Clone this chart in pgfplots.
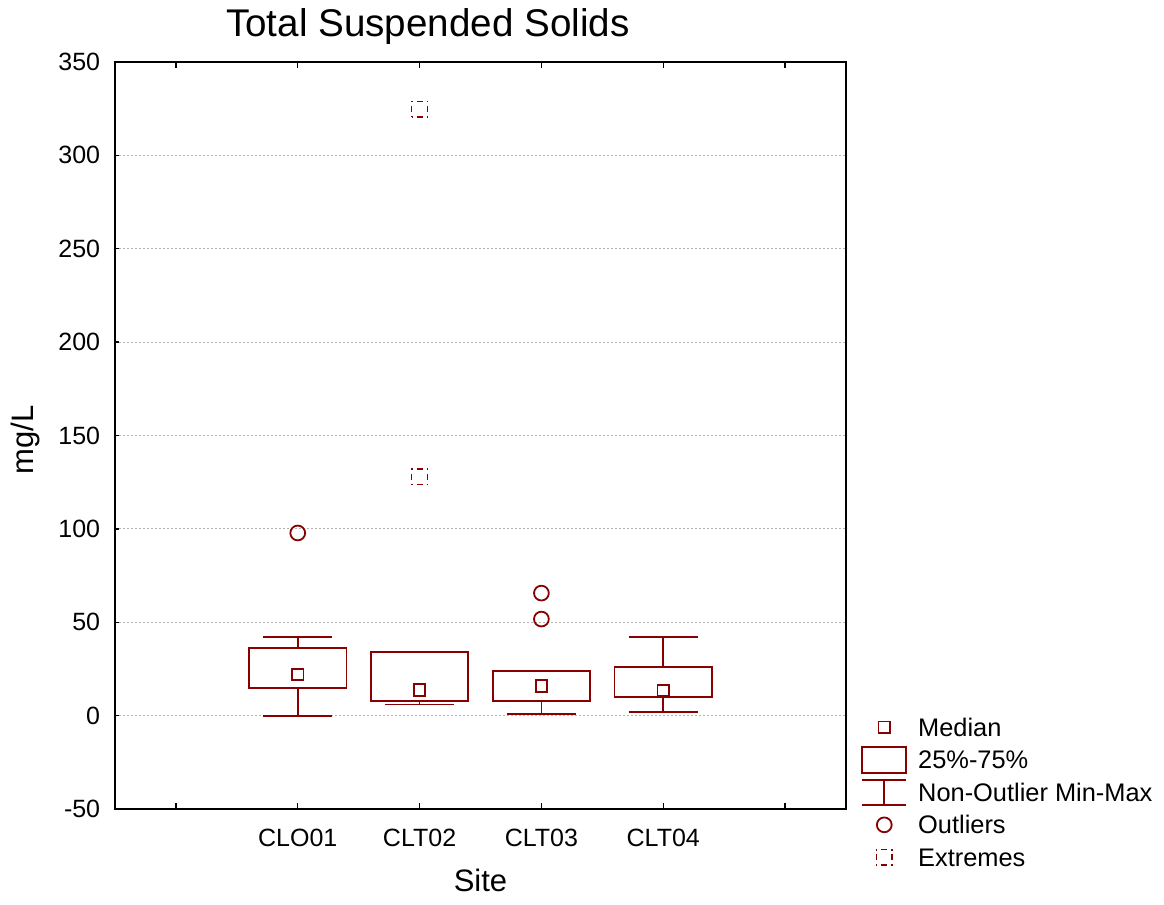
\documentclass[border=0pt]{standalone}
\usepackage{fontspec}
\setmainfont{Liberation Sans}
\usepackage{pgfplots}
\pgfplotsset{compat=1.18}
\usepgfplotslibrary{statistics}
\definecolor{boxred}{RGB}{136,0,0}

\pgfplotsset{
  tssbox/.style={
    forget plot, draw=boxred, line width=0.9pt,
    boxplot/draw direction=y,
    boxplot/box extend=0.8,
    boxplot/whisker extend=0.57,
    boxplot/draw/median/.code={%
      \draw[boxred, line width=0.9pt]
        (boxplot box cs:\pgfplotsboxplotvalue{median},0.5) ++(-2.9pt,-2.9pt)
        rectangle ++(5.8pt,5.8pt);
    },
  },
}

\begin{document}
\begin{tikzpicture}
\path[use as bounding box] (0,0) rectangle (582pt,452.5pt);
\begin{axis}[
  at={(57.5pt,48pt)}, anchor=south west,
  scale only axis, width=365.5pt, height=373.5pt,
  xmin=-0.5, xmax=5.5, ymin=-50, ymax=350,
  xtick={0,1,2,3,4,5},
  xticklabels={,CLO01,CLT02,CLT03,CLT04,},
  ytick distance=50,
  tick align=inside,
  ytick pos=left,
  xtick style={/pgfplots/major tick length=3pt, line width=0.7pt, black},
  ytick style={/pgfplots/major tick length=2pt, line width=0.7pt, black},
  axis line style={line width=1pt},
  ymajorgrids,
  major grid style={draw=gray!60, line width=0.5pt, dash pattern=on 1pt off 1pt},
  /pgf/number format/assume math mode=true,
  ticklabel style={font=\fontsize{12.5}{15}\selectfont},
  xticklabel style={yshift=-6.5pt},
  yticklabel style={xshift=-3.9pt},
  title={Total Suspended Solids},
  every axis title/.style={at={(0.428,1)}, anchor=base, yshift=12.5pt,
    font=\fontsize{19.3}{23}\selectfont},
  xlabel={Site},
  every axis x label/.style={at={(0.5,-0.096)}, anchor=center,
    font=\fontsize{15.5}{18}\selectfont},
  ylabel={mg/L},
  every axis y label/.style={at={(-0.122,0.494)}, anchor=center, rotate=90,
    font=\fontsize{15.5}{18}\selectfont},
  legend style={draw=none, fill=none, at={(1.0205,0.1316)}, anchor=north west,
    inner sep=0pt, font=\fontsize{12.7}{15}\selectfont,
    column sep=5.5pt, row sep=0pt,
    nodes={inner sep=0pt, text height=12.625pt, text depth=3.625pt}},
  legend cell align=left,
]

% boxes: lower whisker, lower quartile, median, upper quartile, upper whisker
\addplot[tssbox, boxplot prepared={draw position=1,
  lower whisker=0, lower quartile=15, median=22,
  upper quartile=36, upper whisker=42}] coordinates {};
\addplot[tssbox, boxplot prepared={draw position=2,
  lower whisker=6, lower quartile=8, median=13.7,
  upper quartile=34, upper whisker=34}] coordinates {};
\addplot[tssbox, boxplot prepared={draw position=3,
  lower whisker=0.7, lower quartile=8, median=15.9,
  upper quartile=24, upper whisker=24}] coordinates {};
\addplot[tssbox, boxplot prepared={draw position=4,
  lower whisker=2, lower quartile=10, median=13.5,
  upper quartile=26, upper whisker=42}] coordinates {};

% outliers
\addplot[forget plot, only marks, mark=o, mark size=3.7pt, boxred,
  mark options={line width=0.9pt}]
  coordinates {(1,97.8) (3,65.6) (3,51.7)};

% extremes
\addplot[forget plot, only marks, mark=square, mark size=3.9pt, boxred,
  mark options={line width=0.7pt, dash pattern=on 0.8pt off 2pt on 3pt off 2pt,
    dash phase=0.4pt}]
  coordinates {(2,324.8) (2,127.8)};

% legend
\addlegendimage{legend image code/.code={
  \path[draw=none, fill=none] (0pt,-6.5pt) rectangle (22pt,6.5pt);
  \draw[boxred, line width=0.9pt] (8.1pt,-2.9pt) rectangle ++(5.8pt,5.8pt);}}
\addlegendentry{Median}
\addlegendimage{legend image code/.code={
  \path[draw=none, fill=none] (0pt,-6.5pt) rectangle (22pt,6.5pt);
  \draw[boxred, line width=0.9pt] (0pt,-6.5pt) rectangle (22pt,6.5pt);}}
\addlegendentry{25\%-75\%}
\addlegendimage{legend image code/.code={
  \path[draw=none, fill=none] (0pt,-6.5pt) rectangle (22pt,6.5pt);
  \draw[boxred, line width=0.9pt] (0pt,-6.3pt) -- (22pt,-6.3pt)
    (0pt,6.3pt) -- (22pt,6.3pt) (11pt,-6.3pt) -- (11pt,6.3pt);}}
\addlegendentry{Non-Outlier Min-Max}
\addlegendimage{legend image code/.code={
  \path[draw=none, fill=none] (0pt,-6.5pt) rectangle (22pt,6.5pt);
  \draw[boxred, line width=0.9pt] (11pt,0pt) circle (3.7pt);}}
\addlegendentry{Outliers}
\addlegendimage{legend image code/.code={
  \path[draw=none, fill=none] (0pt,-6.5pt) rectangle (22pt,6.5pt);
  \draw[boxred, line width=0.7pt, dash pattern=on 0.8pt off 2pt on 3pt off 2pt,
    dash phase=0.4pt] (7.1pt,-3.9pt) rectangle ++(7.8pt,7.8pt);}}
\addlegendentry{Extremes}
\end{axis}
\end{tikzpicture}
\end{document}
